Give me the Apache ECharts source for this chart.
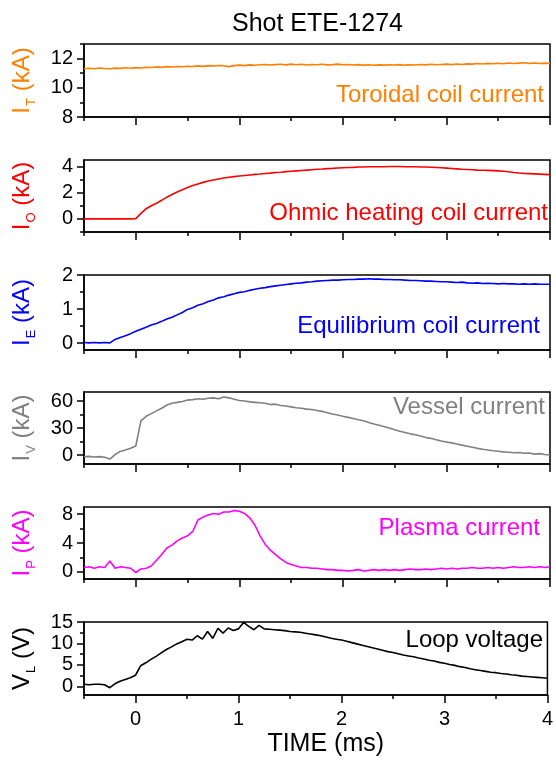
<!DOCTYPE html>
<html><head><meta charset="utf-8">
<script src="https://cdn.jsdelivr.net/npm/echarts@6/dist/echarts.min.js"></script>
<style>html,body{margin:0;padding:0;background:#fff}#c{width:556px;height:764px}</style>
</head><body><div id="c"></div>
<script>
// ---------- data ----------
const time = [-0.5,-0.45,-0.4,-0.35,-0.3,-0.25,-0.2,-0.15,-0.1,-0.05,
  0,0.05,0.1,0.15,0.2,0.25,0.3,0.35,0.4,0.45,
  0.5,0.55,0.6,0.65,0.7,0.75,0.8,0.85,0.9,0.95,
  1,1.05,1.1,1.15,1.2,1.25,1.3,1.35,1.4,1.45,
  1.5,1.55,1.6,1.65,1.7,1.75,1.8,1.85,1.9,1.95,
  2,2.05,2.1,2.15,2.2,2.25,2.3,2.35,2.4,2.45,
  2.5,2.55,2.6,2.65,2.7,2.75,2.8,2.85,2.9,2.95,
  3,3.05,3.1,3.15,3.2,3.25,3.3,3.35,3.4,3.45,
  3.5,3.55,3.6,3.65,3.7,3.75,3.8,3.85,3.9,3.95,
  4];
const toroidalCurrent = [11.30,11.34,11.31,11.36,11.32,11.30,11.35,11.33,11.37,11.34,
  11.38,11.36,11.41,11.39,11.43,11.40,11.45,11.42,11.46,11.44,
  11.48,11.46,11.50,11.47,11.52,11.49,11.53,11.51,11.45,11.52,
  11.55,11.52,11.57,11.54,11.58,11.60,11.56,11.59,11.61,11.57,
  11.62,11.58,11.61,11.56,11.60,11.58,11.61,11.57,11.59,11.62,
  11.58,11.60,11.56,11.59,11.55,11.58,11.54,11.57,11.55,11.58,
  11.56,11.59,11.55,11.58,11.56,11.60,11.57,11.61,11.58,11.60,
  11.62,11.59,11.63,11.60,11.64,11.62,11.66,11.63,11.67,11.65,
  11.68,11.65,11.70,11.66,11.69,11.72,11.67,11.70,11.66,11.69,
  11.66];
const ohmicCurrent = [0.00,0.01,0.00,0.01,0.00,0.00,0.01,0.00,0.01,0.00,
  0.02,0.42,0.78,1.00,1.20,1.42,1.66,1.86,2.05,2.22,
  2.40,2.55,2.67,2.79,2.89,2.97,3.05,3.12,3.18,3.23,
  3.28,3.32,3.36,3.40,3.43,3.47,3.50,3.54,3.57,3.61,
  3.64,3.67,3.70,3.73,3.76,3.79,3.81,3.84,3.86,3.89,
  3.91,3.93,3.94,3.96,3.97,3.98,3.98,3.99,3.99,4.00,
  4.00,4.00,3.99,3.99,3.98,3.97,3.96,3.95,3.93,3.91,
  3.88,3.85,3.82,3.79,3.77,3.75,3.73,3.72,3.71,3.69,
  3.67,3.64,3.60,3.55,3.51,3.48,3.46,3.44,3.42,3.40,
  3.38];
const equilibriumCurrent = [0.02,0.01,0.02,0.01,0.02,0.01,0.11,0.17,0.22,0.28,
  0.35,0.41,0.47,0.53,0.58,0.64,0.71,0.76,0.83,0.90,
  0.99,1.04,1.11,1.16,1.22,1.27,1.33,1.36,1.41,1.45,
  1.49,1.51,1.55,1.58,1.61,1.63,1.66,1.68,1.70,1.72,
  1.74,1.76,1.77,1.79,1.80,1.82,1.83,1.84,1.85,1.85,
  1.86,1.87,1.87,1.88,1.88,1.89,1.88,1.88,1.87,1.87,
  1.86,1.86,1.85,1.84,1.84,1.83,1.82,1.82,1.81,1.80,
  1.80,1.79,1.78,1.79,1.77,1.76,1.77,1.75,1.76,1.75,
  1.74,1.75,1.74,1.74,1.73,1.74,1.73,1.74,1.73,1.73,
  1.73];
const vesselCurrent = [-2.0,-1.5,-2.3,-1.8,-2.5,-4.5,0.5,4.0,5.5,7.5,
  10.0,38.0,43.0,46.0,49.0,52.0,55.5,57.5,58.5,59.5,
  61.0,61.5,62.5,62.0,63.0,63.5,62.5,64.5,63.5,62.0,
  60.5,60.0,59.0,58.5,58.0,57.5,56.0,56.5,55.0,54.5,
  53.5,52.5,52.0,51.0,50.5,49.5,48.5,47.0,45.5,44.5,
  43.0,41.8,40.5,39.2,38.0,36.2,34.5,33.0,31.5,30.0,
  28.0,26.5,25.0,23.5,22.5,21.0,19.5,18.5,17.0,15.5,
  14.5,13.5,12.3,11.0,9.8,8.6,7.4,6.3,5.5,4.8,
  4.2,3.5,3.0,2.5,2.8,1.9,2.2,1.0,1.5,0.5,
  0.0];
const plasmaCurrent = [0.6,0.7,0.5,0.7,0.6,1.5,0.5,0.7,0.6,0.5,
  -0.1,0.4,0.5,0.8,1.6,2.4,3.3,3.7,4.3,4.7,
  5.0,5.6,7.2,7.6,7.9,8.1,8.0,8.3,8.3,8.5,
  8.4,8.1,7.5,6.5,5.0,3.8,3.0,2.4,1.8,1.3,
  1.0,0.8,0.6,0.6,0.5,0.5,0.4,0.3,0.3,0.2,
  0.2,0.1,0.2,0.3,0.1,0.2,0.3,0.2,0.3,0.2,
  0.3,0.2,0.3,0.4,0.3,0.3,0.4,0.3,0.4,0.5,
  0.4,0.5,0.4,0.5,0.5,0.6,0.5,0.5,0.6,0.5,
  0.6,0.5,0.6,0.7,0.6,0.6,0.7,0.6,0.7,0.6,
  0.7];
const loopVoltage = [0.5,0.4,0.5,0.5,0.4,-0.3,0.6,1.2,1.6,2.0,
  2.6,4.8,5.5,6.3,7.0,7.8,8.6,9.2,9.9,10.4,
  11.0,10.8,11.8,11.0,12.8,11.2,13.5,12.4,13.6,13.0,
  13.4,14.9,14.0,13.2,14.2,13.4,13.3,13.2,13.1,13.0,
  12.8,12.7,12.6,12.4,12.2,12.0,11.8,11.5,11.2,11.0,
  10.8,10.5,10.2,9.9,9.6,9.3,9.0,8.7,8.4,8.1,
  7.9,7.6,7.3,7.1,6.9,6.6,6.4,6.1,5.9,5.6,
  5.4,5.1,4.9,4.6,4.4,4.1,3.9,3.7,3.5,3.3,
  3.2,3.0,2.9,2.7,2.6,2.4,2.3,2.2,2.1,2.0,
  1.9];

const xTickLabels = [0, 1, 2, 3, 4];
const xMinorTicks = [-0.5, 0.5, 1.5, 2.5, 3.5];

const seriesNames = ['Toroidal coil current', 'Ohmic heating coil current', 'Equilibrium coil current',
  'Vessel current', 'Plasma current', 'Loop voltage'];
const seriesValues = [toroidalCurrent, ohmicCurrent, equilibriumCurrent, vesselCurrent, plasmaCurrent, loopVoltage];
const axisSymbols = ['I', 'I', 'I', 'I', 'I', 'V'];
const axisSubscripts = ['T', 'O', 'E', 'V', 'P', 'L'];
const axisUnits = ['(kA)', '(kA)', '(kA)', '(kA)', '(kA)', '(V)'];
const yMins = [8, -1, -0.2, -10, -1, -2];
const yMaxs = [13, 4.5, 2, 70, 9, 15];
const yTickLabels = [[8, 10, 12], [0, 2, 4], [0, 1, 2], [0, 30, 60], [0, 4, 8], [0, 5, 10, 15]];
const yMinorTicks = [[9, 11, 13], [-1, 1, 3], [0.5, 1.5], [15, 45], [2, 6], [2.5, 7.5, 12.5]];

// ---------- styles / layout ----------
const colors = ['#FF8000', '#FF0000', '#0000FF', '#808080', '#FF00FF', '#000000'];
const gridTops = [44, 160, 275, 392, 507, 622];
const gridHeights = [73, 72, 75, 72, 72, 73];
const labelTops = [83, 201, 314, 395, 516, 628];
const labelRights = [12, 8, 16, 11, 16, 13];
const FONT = '"Liberation Sans", Arial, Helvetica, sans-serif';
const AXIS_W = 1.5;

const grids = [], xAxes = [], yAxes = [], series = [];
const titles = [{
  text: 'Shot ETE-1274', left: 232, top: 12, padding: 0,
  textStyle: {fontSize: 25, fontWeight: 'normal', color: '#000', fontFamily: FONT}
}];
const tickLine = {color: '#000', width: AXIS_W};

seriesNames.forEach((nm, i) => {
  const last = i === seriesNames.length - 1;
  grids.push({left: 84, right: 6, top: gridTops[i], height: gridHeights[i], show: true,
    borderColor: '#000', borderWidth: AXIS_W, backgroundColor: 'transparent'});
  xAxes.push({
    type: 'value', gridIndex: i, min: -0.5, max: 4, position: 'bottom',
    axisLine: {show: true, onZero: false, lineStyle: tickLine},
    axisTick: {show: true, customValues: xTickLabels, length: 8, lineStyle: tickLine},
    axisLabel: {show: last, customValues: xTickLabels, fontSize: 20, color: '#000', margin: 14, fontFamily: FONT},
    splitLine: {show: false},
    name: last ? 'TIME (ms)' : '', nameLocation: 'middle', nameGap: 37,
    nameTextStyle: {fontSize: 25, color: '#000', fontFamily: FONT, padding: [0, 0, 0, 20]}
  });
  xAxes.push({
    type: 'value', gridIndex: i, min: -0.5, max: 4, position: 'bottom',
    axisLine: {show: false, onZero: false},
    axisTick: {show: true, customValues: xMinorTicks, length: 4, lineStyle: tickLine},
    axisLabel: {show: false}, splitLine: {show: false}
  });
  const c = colors[i];
  yAxes.push({
    type: 'value', gridIndex: i, min: yMins[i], max: yMaxs[i], position: 'left',
    axisLine: {show: true, onZero: false, lineStyle: tickLine},
    axisTick: {show: true, customValues: yTickLabels[i], length: 7, lineStyle: tickLine},
    axisLabel: {show: true, customValues: yTickLabels[i], fontSize: 20, color: '#000', margin: 11, fontFamily: FONT},
    splitLine: {show: false},
    name: '{m|' + axisSymbols[i] + '}{s|' + axisSubscripts[i] + '}{m| ' + axisUnits[i] + '}',
    nameLocation: 'middle', nameRotate: 90, nameGap: 46,
    nameTextStyle: {color: c, fontFamily: FONT, fontSize: 24,
      rich: {
        m: {color: c, fontFamily: FONT, fontSize: 24},
        s: {color: c, fontFamily: FONT, fontSize: 13, padding: [18, 0, 0, 1]}
      }}
  });
  yAxes.push({
    type: 'value', gridIndex: i, min: yMins[i], max: yMaxs[i], position: 'left',
    axisLine: {show: false, onZero: false},
    axisTick: {show: true, customValues: yMinorTicks[i], length: 4, lineStyle: tickLine},
    axisLabel: {show: false}, splitLine: {show: false}
  });
  series.push({
    type: 'line', name: nm, xAxisIndex: 2 * i, yAxisIndex: 2 * i,
    data: time.map((t, k) => [t, seriesValues[i][k]]),
    symbol: 'none', showSymbol: false, clip: true,
    lineStyle: {color: c, width: 1.6}, itemStyle: {color: c}
  });
  titles.push({
    text: nm, right: labelRights[i], top: labelTops[i], padding: 0,
    textStyle: {fontSize: 24, fontWeight: 'normal', color: c, fontFamily: FONT}
  });
});

const chart = echarts.init(document.getElementById('c'));
chart.setOption({
  animation: false,
  backgroundColor: '#fff',
  title: titles,
  grid: grids,
  xAxis: xAxes,
  yAxis: yAxes,
  series: series
});
</script></body></html>
